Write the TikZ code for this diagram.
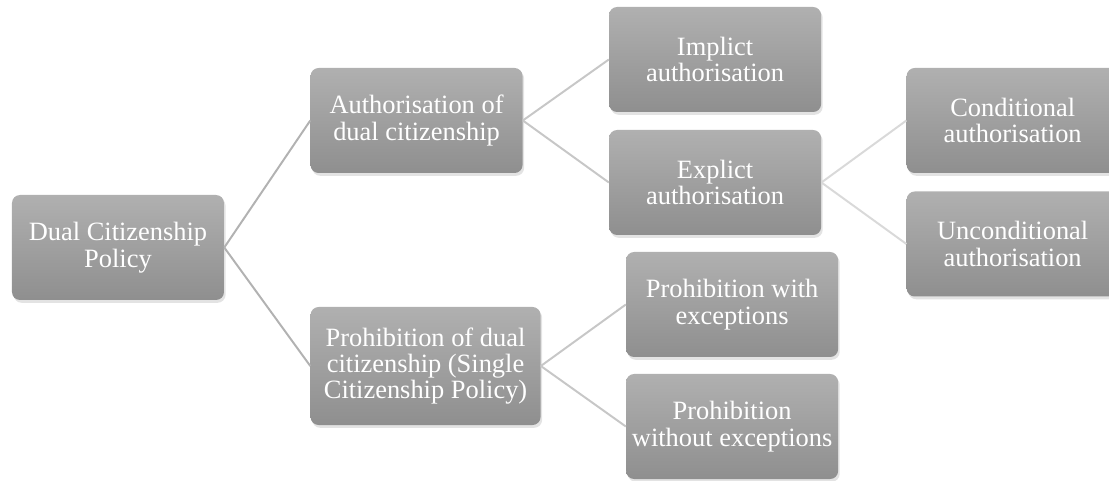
\documentclass[tikz,border=0pt]{standalone}
\usepackage{fontspec}
\setmainfont{Liberation Serif}
\usepackage{xcolor}
\usepackage{tikz}
\usetikzlibrary{positioning, shadows}

\begin{document}
\begin{tikzpicture}[
    node distance=1.55cm and 2.15cm,
    pbox/.style={rounded corners=0.2cm, top color=black!31, bottom color=black!44, draw=none,
        minimum width=5.3cm, minimum height=2.625cm, align=center, text=white, inner sep=2pt,
        font=\fontsize{18.8}{18.8}\selectfont,
        drop shadow={shadow xshift=0.04cm, shadow yshift=-0.07cm, opacity=0.22}},
    wbox/.style={pbox, minimum width=5.75cm, minimum height=2.95cm},
    link/.style={draw, line width=1.4pt},
    lvla/.style={link, draw=black!30},
    lvlb/.style={link, draw=black!22},
    lvlc/.style={link, draw=black!15}
]
    \useasboundingbox (0,0) rectangle (27.725,12);

    % Root policy
    \node[pbox] (policy) at (2.95,5.8125) {Dual Citizenship\\Policy};

    % First level
    \node[pbox, right=2.15cm of policy, yshift=3.175cm] (auth) {Authorisation of\\dual citizenship};
    \node[wbox, right=2.15cm of policy, yshift=-2.9625cm] (prohib) {Prohibition of dual\\citizenship (Single\\Citizenship Policy)};

    % Kinds of authorisation
    \node[pbox, right=2.15cm of auth, yshift=1.525cm] (implicit) {Implict\\authorisation};
    \node[pbox, right=2.15cm of auth, yshift=-1.55cm] (explicit) {Explict\\authorisation};
    \node[pbox, right=2.125cm of explicit, yshift=1.55cm] (cond) {Conditional\\authorisation};
    \node[pbox, right=2.125cm of explicit, yshift=-1.5375cm] (uncond) {Unconditional\\authorisation};

    % Kinds of prohibition
    \node[pbox, right=2.125cm of prohib, yshift=1.5375cm] (pwith) {Prohibition with\\exceptions};
    \node[pbox, right=2.125cm of prohib, yshift=-1.5125cm] (pwithout) {Prohibition\\without exceptions};

    % Tree links
    \draw[lvla] (policy.east) -- (auth.west);
    \draw[lvla] (policy.east) -- (prohib.west);
    \draw[lvlb] (auth.east) -- (implicit.west);
    \draw[lvlb] (auth.east) -- (explicit.west);
    \draw[lvlb] (prohib.east) -- (pwith.west);
    \draw[lvlb] (prohib.east) -- (pwithout.west);
    \draw[lvlc] (explicit.east) -- (cond.west);
    \draw[lvlc] (explicit.east) -- (uncond.west);

\end{tikzpicture}
\end{document}
